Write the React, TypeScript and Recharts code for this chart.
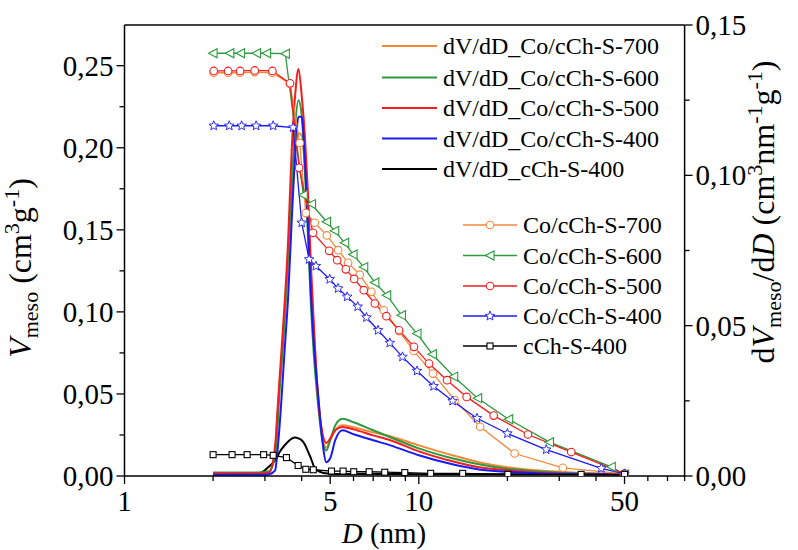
import React from 'react';
import { LineChart, Line, XAxis, YAxis, ReferenceLine } from 'recharts';

const FONT = '"Liberation Serif", "Times New Roman", serif';

// pore diameter grid (nm) for the dV/dD curves, right axis
const dGrid = [2.0, 2.9, 3.1, 3.25, 3.3, 3.35, 3.5, 3.6, 3.7, 3.8, 3.9, 4.0, 4.1, 4.2, 4.3, 4.4, 4.55, 4.7, 4.85, 5.0, 5.2, 5.5, 6.0, 7.0, 8.0, 10, 13, 16, 20, 25, 35, 50];
const dvdd700 = [0.0009, 0.0009, 0.0012, 0.0085, 0.0185, 0.0278, 0.0518, 0.0701, 0.09, 0.1066, 0.114, 0.1133, 0.1033, 0.0867, 0.0651, 0.0485, 0.0268, 0.0135, 0.0095, 0.0119, 0.0152, 0.0169, 0.0162, 0.0145, 0.0132, 0.0102, 0.0069, 0.0046, 0.0029, 0.0019, 0.0011, 0.0006];
const dvdd600 = [0.0012, 0.0012, 0.0016, 0.0069, 0.0135, 0.0252, 0.0518, 0.0751, 0.0967, 0.1166, 0.125, 0.12, 0.1017, 0.0801, 0.0568, 0.0401, 0.0235, 0.0119, 0.0085, 0.0119, 0.0168, 0.019, 0.0179, 0.0152, 0.0129, 0.0092, 0.0059, 0.0039, 0.0024, 0.0016, 0.0009, 0.0006];
const dvdd500 = [0.0009, 0.0009, 0.0012, 0.0102, 0.0196, 0.0298, 0.0574, 0.0791, 0.1087, 0.1266, 0.1354, 0.1266, 0.1133, 0.0944, 0.0701, 0.0501, 0.0252, 0.0145, 0.011, 0.0125, 0.0152, 0.0163, 0.0155, 0.0135, 0.0119, 0.0082, 0.0049, 0.0029, 0.0019, 0.0012, 0.0007, 0.0006];
const dvdd400 = [0.0004, 0.0004, 0.0006, 0.0019, 0.0069, 0.0142, 0.0418, 0.0601, 0.085, 0.1066, 0.1195, 0.1195, 0.105, 0.0834, 0.0601, 0.0435, 0.0268, 0.0119, 0.0046, 0.0059, 0.0119, 0.0152, 0.0139, 0.0119, 0.0102, 0.0069, 0.0039, 0.0022, 0.0014, 0.0009, 0.0006, 0.0004];
const dvddC400 = [0.0006, 0.0011, 0.0032, 0.0052, 0.0062, 0.0076, 0.0102, 0.0115, 0.0124, 0.0128, 0.0125, 0.0119, 0.0105, 0.0082, 0.0059, 0.0032, 0.0017, 0.0011, 0.0009, 0.0007, 0.0007, 0.0007, 0.0007, 0.0007, 0.0007, 0.0006, 0.0006, 0.0006, 0.0006, 0.0006, 0.0006, 0.0006];

// cumulative mesopore volume, left axis
const d700 = [2.01, 2.25, 2.47, 2.77, 3.18, 3.65, 3.94, 4.13, 4.43, 4.87, 5.32, 5.75, 6.3, 6.9, 7.6, 8.58, 9.61, 11.17, 13.24, 16.16, 21.16, 30.87, 50.0];
const v700 = [0.2457, 0.2457, 0.2457, 0.2461, 0.2457, 0.2389, 0.2029, 0.1602, 0.1543, 0.1466, 0.1376, 0.1299, 0.1227, 0.1122, 0.101, 0.0882, 0.0762, 0.0624, 0.0463, 0.03, 0.0137, 0.005, 0.0013];
const d600 = [2.0, 2.28, 2.48, 2.81, 3.04, 3.52, 4.05, 4.32, 4.86, 5.18, 5.6, 5.98, 6.5, 7.09, 7.78, 8.73, 9.86, 11.12, 13.14, 15.85, 20.2, 27.8, 45.1, 50.0];
const v600 = [0.2576, 0.2576, 0.2576, 0.2576, 0.2576, 0.2573, 0.1712, 0.1657, 0.1549, 0.1494, 0.1421, 0.135, 0.1273, 0.1179, 0.1102, 0.098, 0.0868, 0.0742, 0.0606, 0.0474, 0.0346, 0.0206, 0.0056, 0.001];
const d500 = [2.01, 2.25, 2.47, 2.77, 3.18, 3.65, 3.92, 4.37, 4.96, 5.28, 5.65, 6.03, 6.5, 7.09, 7.76, 8.57, 9.63, 10.83, 12.47, 14.54, 17.96, 23.48, 32.96, 50.0];
const v500 = [0.2468, 0.2468, 0.2468, 0.2471, 0.2468, 0.2393, 0.1878, 0.1482, 0.1372, 0.1315, 0.1259, 0.1201, 0.1132, 0.1051, 0.0974, 0.0888, 0.0787, 0.0685, 0.0584, 0.0482, 0.0368, 0.0253, 0.0146, 0.0015];
const d400 = [2.01, 2.27, 2.5, 2.8, 3.2, 3.74, 4.0, 4.24, 4.47, 4.98, 5.32, 5.71, 6.2, 6.64, 7.27, 7.97, 8.8, 9.86, 11.23, 13.03, 15.76, 20.0, 27.1, 41.7, 50.0];
const v400 = [0.2134, 0.2134, 0.2134, 0.2134, 0.2134, 0.2123, 0.1543, 0.132, 0.1279, 0.1199, 0.1143, 0.1092, 0.1032, 0.0966, 0.0888, 0.0811, 0.0726, 0.064, 0.0547, 0.0457, 0.0352, 0.0259, 0.0161, 0.0047, 0.0013];
const dC400 = [2.0, 2.32, 2.61, 2.97, 3.2, 3.55, 3.89, 4.13, 4.38, 5.05, 5.53, 6.01, 6.78, 7.66, 8.96, 10.97, 14.09, 20.08, 35.6, 50.0];
const vC400 = [0.013, 0.013, 0.013, 0.013, 0.0126, 0.0112, 0.0064, 0.0041, 0.0038, 0.003, 0.003, 0.0026, 0.0026, 0.0023, 0.0021, 0.0016, 0.0016, 0.001, 0.001, 0.001];

const xTicks = [1, 2, 3, 4, 5, 6, 7, 8, 9, 10, 20, 30, 40, 50, 60, 70, 80];
const xLabels = [1, 5, 10, 50];
const leftTicks = [0, 0.025, 0.05, 0.075, 0.1, 0.125, 0.15, 0.175, 0.2, 0.225, 0.25];
const rightTicks = [0, 0.025, 0.05, 0.075, 0.1, 0.125, 0.15];
const LEFT_MAX = 0.2748;
const RIGHT_MAX = 0.15;

const ORANGE = '#f5873a';
const GREEN = '#2c9a3c';
const RED = '#f41c1c';
const BLUE = '#1a1af5';
const BLACK = '#000000';

const rows = (xs: number[], ys: number[]) => xs.map((d, i) => ({ d, v: ys[i] }));

type MarkerKind = 'circle' | 'triangle' | 'star' | 'square';

const markerShape = (kind: MarkerKind, cx: number, cy: number, color: string, key?: string) => {
  const common = { fill: '#fff', stroke: color, strokeWidth: 1.1 };
  if (kind === 'circle') return <circle key={key} cx={cx} cy={cy} r={3.8} {...common} />;
  if (kind === 'square') return <rect key={key} x={cx - 3} y={cy - 3} width={6} height={6} {...common} />;
  if (kind === 'triangle') {
    return <polygon key={key} points={`${cx - 4.5},${cy} ${cx + 4},${cy - 4.5} ${cx + 4},${cy + 4.5}`} {...common} />;
  }
  const pts: string[] = [];
  for (let i = 0; i < 10; i++) {
    const r = i % 2 === 0 ? 5 : 2.2;
    const a = -Math.PI / 2 + (i * Math.PI) / 5;
    pts.push(`${cx + r * Math.cos(a)},${cy + r * Math.sin(a)}`);
  }
  return <polygon key={key} points={pts.join(' ')} {...common} strokeWidth={0.9} />;
};

const makeDot = (kind: MarkerKind, color: string) => (props: any) => {
  const { cx, cy, index } = props;
  if (cx == null || cy == null) return <g key={`e-${index}`} />;
  return markerShape(kind, cx, cy, color, `m-${index}`);
};

const cumulative = [
  { name: 'Co/cCh-S-700', data: rows(d700, v700), color: ORANGE, marker: 'circle' as MarkerKind },
  { name: 'Co/cCh-S-600', data: rows(d600, v600), color: GREEN, marker: 'triangle' as MarkerKind },
  { name: 'Co/cCh-S-500', data: rows(d500, v500), color: RED, marker: 'circle' as MarkerKind },
  { name: 'Co/cCh-S-400', data: rows(d400, v400), color: BLUE, marker: 'star' as MarkerKind },
  { name: 'cCh-S-400', data: rows(dC400, vC400), color: BLACK, marker: 'square' as MarkerKind },
];

const distribution = [
  { name: 'dV/dD_Co/cCh-S-700', data: rows(dGrid, dvdd700), color: ORANGE },
  { name: 'dV/dD_Co/cCh-S-600', data: rows(dGrid, dvdd600), color: GREEN },
  { name: 'dV/dD_Co/cCh-S-500', data: rows(dGrid, dvdd500), color: RED },
  { name: 'dV/dD_Co/cCh-S-400', data: rows(dGrid, dvdd400), color: BLUE },
  { name: 'dV/dD_cCh-S-400', data: rows(dGrid, dvddC400), color: BLACK },
];
const drawOrder = [4, 0, 1, 2, 3];

const comma = (v: number) => v.toFixed(2).replace('.', ',');
const isMajor = (v: number) => Math.abs(Math.round(v * 20) - v * 20) < 1e-6;

const XTick = (props: any) => {
  const { x, y, payload } = props;
  const v = payload.value;
  const labelled = xLabels.includes(v);
  return (
    <g>
      <line x1={x} x2={x} y1={y} y2={y + (labelled ? 8 : 5)} stroke="#000" strokeWidth={1.3} />
      {labelled && (
        <text x={x} y={y + 35} textAnchor="middle" fontSize={29} fontFamily={FONT} fill="#000">
          {v}
        </text>
      )}
    </g>
  );
};

const LeftTick = (props: any) => {
  const { x, y, payload } = props;
  const major = isMajor(payload.value);
  return (
    <g>
      <line x1={x} x2={x - (major ? 8 : 5)} y1={y} y2={y} stroke="#000" strokeWidth={1.3} />
      {major && (
        <text x={x - 11} y={y} dy="0.35em" textAnchor="end" fontSize={29} fontFamily={FONT} fill="#000">
          {comma(payload.value)}
        </text>
      )}
    </g>
  );
};

const RightTick = (props: any) => {
  const { x, y, payload } = props;
  const major = isMajor(payload.value);
  return (
    <g>
      <line x1={x} x2={x + (major ? 8 : 5)} y1={y} y2={y} stroke="#000" strokeWidth={1.3} />
      {major && (
        <text x={x + 11} y={y} dy="0.35em" textAnchor="start" fontSize={29} fontFamily={FONT} fill="#000">
          {comma(payload.value)}
        </text>
      )}
    </g>
  );
};

const legendTop = [46, 77.5, 108, 138.5, 169];
const legendBottom = [225, 255.5, 286, 316, 346];

const Overlay = () => (
  <svg width={798} height={550} style={{ position: 'absolute', left: 0, top: 0, pointerEvents: 'none' }}>
    {distribution.map((s, i) => (
      <g key={s.name}>
        <line x1={382} x2={437} y1={legendTop[i]} y2={legendTop[i]} stroke={s.color} strokeWidth={2} />
        <text x={443} y={legendTop[i]} dy="0.35em" fontSize={24} fontFamily={FONT} fill="#000">
          {s.name}
        </text>
      </g>
    ))}
    {cumulative.map((s, i) => (
      <g key={s.name}>
        <line x1={463} x2={517} y1={legendBottom[i]} y2={legendBottom[i]} stroke={s.color} strokeWidth={1.3} />
        {markerShape(s.marker, 490, legendBottom[i], s.color)}
        <text x={523} y={legendBottom[i]} dy="0.35em" fontSize={24} fontFamily={FONT} fill="#000">
          {s.name}
        </text>
      </g>
    ))}
    <text transform="translate(31,268) rotate(-90)" textAnchor="middle" fontSize={32} fontFamily={FONT} fill="#000">
      <tspan fontStyle="italic">V</tspan>
      <tspan fontSize={22} dy={7}>meso</tspan>
      <tspan dy={-7}> (cm</tspan>
      <tspan fontSize={22} dy={-12}>3</tspan>
      <tspan dy={12}>g</tspan>
      <tspan fontSize={22} dy={-12}>-1</tspan>
      <tspan dy={12}>)</tspan>
    </text>
    <text transform="translate(774,212) rotate(-90)" textAnchor="middle" fontSize={32} fontFamily={FONT} fill="#000">
      <tspan>d</tspan>
      <tspan fontStyle="italic">V</tspan>
      <tspan fontSize={22} dy={7}>meso</tspan>
      <tspan dy={-7}>/d</tspan>
      <tspan fontStyle="italic">D</tspan>
      <tspan> (cm</tspan>
      <tspan fontSize={22} dy={-12}>3</tspan>
      <tspan dy={12}>nm</tspan>
      <tspan fontSize={22} dy={-12}>-1</tspan>
      <tspan dy={12}>g</tspan>
      <tspan fontSize={22} dy={-12}>-1</tspan>
      <tspan dy={12}>)</tspan>
    </text>
    <text x={384} y={543} textAnchor="middle" fontSize={29} fontFamily={FONT} fill="#000">
      <tspan fontStyle="italic">D</tspan>
      <tspan> (nm)</tspan>
    </text>
  </svg>
);

export default function App() {
  return (
    <div style={{ position: 'absolute', left: 0, top: 0, width: 798, height: 550, background: '#fff' }}>
      <LineChart width={798} height={550} margin={{ top: 25, right: 53.4, bottom: 44, left: 64.5 }}>
        <XAxis
          dataKey="d"
          type="number"
          scale="log"
          domain={[1, 80]}
          allowDataOverflow
          ticks={xTicks}
          interval={0}
          tick={<XTick />}
          tickLine={false}
          tickSize={0}
          tickMargin={0}
          height={30}
          axisLine={{ stroke: '#000', strokeWidth: 1.5 }}
        />
        <YAxis
          yAxisId="left"
          orientation="left"
          type="number"
          domain={[0, LEFT_MAX]}
          allowDataOverflow
          ticks={leftTicks}
          interval={0}
          tick={<LeftTick />}
          tickLine={false}
          tickSize={0}
          tickMargin={0}
          width={60}
          axisLine={{ stroke: '#000', strokeWidth: 1.5 }}
        />
        <YAxis
          yAxisId="right"
          orientation="right"
          type="number"
          domain={[0, RIGHT_MAX]}
          allowDataOverflow
          ticks={rightTicks}
          interval={0}
          tick={<RightTick />}
          tickLine={false}
          tickSize={0}
          tickMargin={0}
          width={60}
          axisLine={{ stroke: '#000', strokeWidth: 1.5 }}
        />
        <ReferenceLine yAxisId="left" y={LEFT_MAX} stroke="#000" strokeWidth={1.5} />
        {drawOrder.map((i) => {
          const s = distribution[i];
          return (
            <Line
              key={s.name}
              yAxisId="right"
              data={s.data}
              dataKey="v"
              type="monotone"
              stroke={s.color}
              strokeWidth={2}
              dot={false}
              isAnimationActive={false}
            />
          );
        })}
        {cumulative.map((s) => (
          <Line
            key={s.name}
            yAxisId="left"
            data={s.data}
            dataKey="v"
            type="linear"
            stroke={s.color}
            strokeWidth={1.3}
            dot={makeDot(s.marker, s.color)}
            isAnimationActive={false}
          />
        ))}
      </LineChart>
      <Overlay />
    </div>
  );
}
